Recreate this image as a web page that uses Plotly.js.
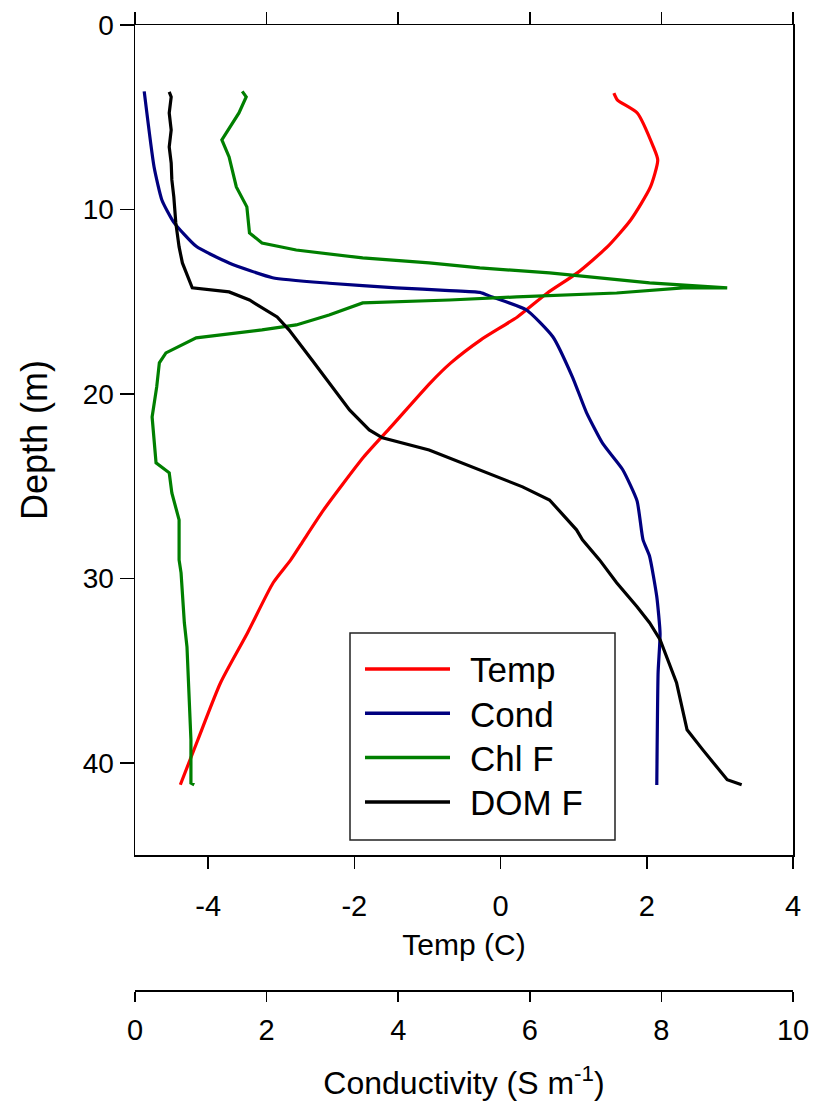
<!DOCTYPE html>
<html>
<head>
<meta charset="utf-8">
<script src="https://cdn.plot.ly/plotly-3.0.1.min.js"></script>
<style>html,body{margin:0;padding:0;background:#fff;}#chart{width:815px;height:1106px;}</style>
</head>
<body>
<div id="chart"></div>
<script>
// ---- data ----
var seriesNames = ["Temp", "Cond", "Chl F", "DOM F"];
var seriesColors = ["#ff0000", "#00007f", "#007f00", "#000000"];

// Temperature (C) vs depth (m)
var tempDepth = [3.69,4.07,4.77,6.61,7.32,8.78,10.57,12.03,13.44,14.53,15.83,17.07,18.32,19.40,21.79,23.41,26.29,27.91,29.0,30.24,32.95,35.66,38.75,41.19];
var tempVal   = [1.55,1.60,1.87,2.09,2.15,2.05,1.78,1.46,1.05,0.64,0.23,-0.27,-0.68,-0.96,-1.50,-1.87,-2.42,-2.69,-2.87,-3.11,-3.46,-3.83,-4.14,-4.38];

// Conductivity (S m-1) vs depth (m)
var condDepth = [3.6,7.7,9.5,10.7,12.0,12.9,13.7,14.0,14.25,14.4,14.5,14.75,15.45,16.9,19.1,21.0,22.7,24.1,25.8,27.9,28.8,31.0,33.0,35.1,41.2];
var condVal   = [0.14,0.29,0.41,0.59,0.93,1.43,2.09,2.95,3.97,4.78,5.24,5.43,5.95,6.35,6.65,6.86,7.11,7.41,7.63,7.72,7.82,7.93,7.98,7.95,7.93];

// Chlorophyll fluorescence (top axis, relative units) vs depth (m)
var chlDepth = [3.6,3.9,4.77,6.23,7.15,8.78,9.86,11.27,11.82,12.2,12.63,12.9,13.17,13.44,13.98,14.25,14.25,14.53,14.74,14.91,15.07,15.72,16.26,16.53,16.96,17.78,18.32,19.62,21.25,22.66,23.74,24.28,25.37,26.83,29.0,29.7,32.41,33.71,36.04,38.75,41.1,41.19];
var chlVal   = [1.63,1.69,1.58,1.32,1.43,1.54,1.70,1.74,1.93,2.45,3.46,4.47,5.24,6.30,7.82,9.0,8.33,7.32,5.80,4.78,3.46,2.95,2.45,1.93,0.93,0.47,0.37,0.33,0.26,0.29,0.32,0.52,0.56,0.67,0.67,0.70,0.75,0.79,0.82,0.85,0.85,0.90];

// DOM fluorescence (top axis, relative units) vs depth (m)
var domDepth = [3.63,3.90,4.77,5.69,6.61,7.48,8.40,9.32,10.73,12.03,12.90,13.44,13.98,14.25,14.47,14.91,15.83,16.53,18.16,19.62,20.87,21.95,22.38,23.04,24.12,24.55,25.04,25.75,27.37,27.91,29.00,30.24,31.54,32.41,33.33,35.66,38.21,39.30,40.92,41.19];
var domVal   = [0.52,0.55,0.52,0.55,0.52,0.55,0.56,0.59,0.62,0.67,0.72,0.78,0.85,0.87,1.43,1.74,2.16,2.34,2.69,3.00,3.26,3.56,3.76,4.47,5.24,5.54,5.89,6.30,6.71,6.80,7.06,7.32,7.63,7.82,7.98,8.23,8.39,8.63,9.00,9.22];

// axis ticks
var depthTicks = [0, 10, 20, 30, 40];
var tempTicks = [-4, -2, 0, 2, 4];
var condTicks = [0, 2, 4, 6, 8, 10];
var topTicks = [0, 2, 4, 6, 8, 10];

// ---- layout geometry ----
var W = 815, H = 1106;
var mL = 135, mR = 22, mT = 25, mB = 116;
var plotBottomPx = 855;
var paperH = H - mT - mB;
var yDomLow = (H - mB - plotBottomPx) / paperH;

var lw = 3.2;
var traces = [
  {x: tempVal, y: tempDepth, xaxis: 'x', yaxis: 'y', name: seriesNames[0], mode: 'lines',
   line: {color: seriesColors[0], width: lw, shape: 'spline', smoothing: 0.6}},
  {x: condVal, y: condDepth, xaxis: 'x2', yaxis: 'y', name: seriesNames[1], mode: 'lines',
   line: {color: seriesColors[1], width: lw, shape: 'spline', smoothing: 0.5}},
  {x: chlVal, y: chlDepth, xaxis: 'x3', yaxis: 'y', name: seriesNames[2], mode: 'lines',
   line: {color: seriesColors[2], width: lw}},
  {x: domVal, y: domDepth, xaxis: 'x3', yaxis: 'y', name: seriesNames[3], mode: 'lines',
   line: {color: seriesColors[3], width: lw}}
];

var fam = 'Liberation Sans, Arial, sans-serif';

// custom legend (box, line samples, labels)
var shapes = [];
var annotations = [];
function px2x(p) { return (p - mL) / (W - mL - mR); }
function py2y(p) { return (H - mB - p) / paperH; }
var boxL = 350, boxR = 615, boxT = 633, boxB = 840;
shapes.push({type: 'rect', xref: 'paper', yref: 'paper',
  x0: px2x(boxL), x1: px2x(boxR), y0: py2y(boxB), y1: py2y(boxT),
  line: {color: '#222', width: 1.5}, fillcolor: '#fff', layer: 'above'});
var rowY0 = 669, rowStep = 44.3;
for (var i = 0; i < seriesNames.length; i++) {
  var ry = rowY0 + i * rowStep;
  shapes.push({type: 'line', xref: 'paper', yref: 'paper',
    x0: px2x(365), x1: px2x(450), y0: py2y(ry), y1: py2y(ry),
    line: {color: seriesColors[i], width: 3.5}, layer: 'above'});
  annotations.push({xref: 'paper', yref: 'paper', x: px2x(468), y: py2y(ry + 1),
    xanchor: 'left', yanchor: 'middle', showarrow: false, text: seriesNames[i],
    font: {family: fam, size: 35, color: '#000'}});
}

function lbl(arr) { return arr.map(function (v) { return String(v); }); }

var axisCommon = {showline: true, linecolor: '#000', linewidth: 1.5, ticks: 'outside',
  tickcolor: '#000', tickwidth: 1.5, showgrid: false, zeroline: false, fixedrange: true};

var layout = {
  width: W, height: H,
  margin: {l: mL, r: mR, t: mT, b: mB, pad: 0},
  paper_bgcolor: '#fff', plot_bgcolor: '#fff',
  showlegend: false,
  yaxis: Object.assign({}, axisCommon, {
    domain: [yDomLow, 1], range: [45, 0], tickvals: depthTicks, ticktext: lbl(depthTicks), ticklen: 14,
    mirror: true, anchor: 'x',
    tickfont: {family: fam, size: 28, color: '#000'},
    title: {text: 'Depth (m)', font: {family: fam, size: 36, color: '#000'}, standoff: 24}
  }),
  xaxis: Object.assign({}, axisCommon, {
    range: [-5, 4], tickvals: tempTicks, ticktext: lbl(tempTicks), ticklen: 12, mirror: true, anchor: 'y',
    ticklabelstandoff: 13,
    tickfont: {family: fam, size: 29, color: '#000'},
    title: {text: 'Temp (C)', font: {family: fam, size: 30, color: '#000'}, standoff: 12}
  }),
  xaxis2: Object.assign({}, axisCommon, {
    range: [0, 10], tickvals: condTicks, ticktext: lbl(condTicks), ticklen: 10, overlaying: 'x',
    anchor: 'free', position: 0, side: 'bottom',
    ticklabelstandoff: 4,
    tickfont: {family: fam, size: 29, color: '#000'},
    title: {text: 'Conductivity (S m<sup>-1</sup>)', font: {family: fam, size: 32, color: '#000'}, standoff: 26}
  }),
  xaxis3: Object.assign({}, axisCommon, {
    range: [0, 10], tickvals: topTicks, ticklen: 12, overlaying: 'x',
    anchor: 'y', side: 'top', showticklabels: false
  }),
  shapes: shapes,
  annotations: annotations
};

Plotly.newPlot('chart', traces, layout, {displayModeBar: false, staticPlot: true});
</script>
</body>
</html>
